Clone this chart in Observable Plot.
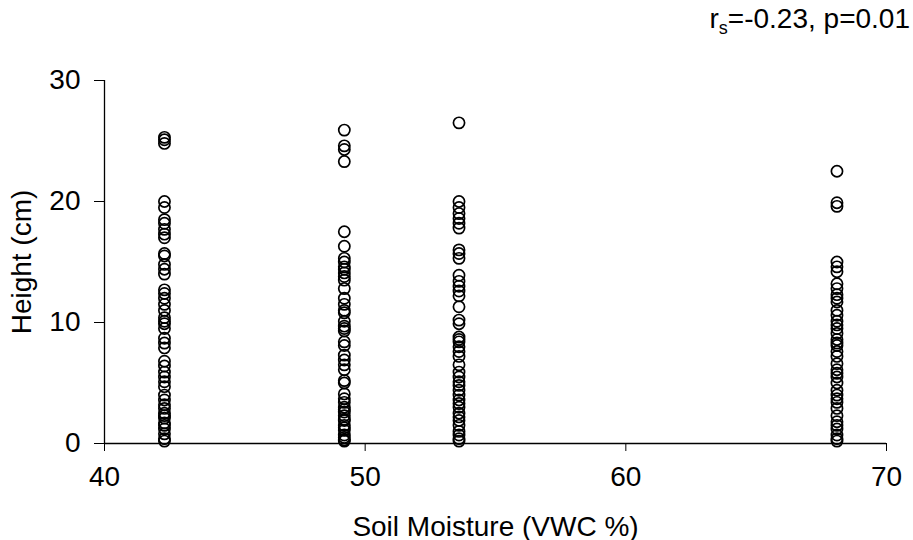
<!DOCTYPE html>
<html>
<head>
<meta charset="utf-8">
<script src="https://cdn.jsdelivr.net/npm/d3@7"></script>
<script src="https://cdn.jsdelivr.net/npm/@observablehq/plot@0.6"></script>
<style>
  html, body { margin: 0; padding: 0; background: #fff; }
  #wrap { position: relative; width: 913px; height: 540px; font-family: "Liberation Sans", Arial, sans-serif; }
  #note { position: absolute; right: 3px; top: 5px; font-size: 28px; line-height: 1; color: #000; white-space: nowrap; }
  #note sub { font-size: 18px; vertical-align: -6px; line-height: 0; }
</style>
</head>
<body>
<div id="wrap"><div id="note">r<sub>s</sub>=-0.23, p=0.01</div></div>
<script>
// Soil moisture levels (VWC %)
const moistureLevels = [42.3, 49.2, 53.6, 68.1];

// Plant heights (cm) at each moisture level
const heights42 = [25.3, 25.1, 24.8, 20.0, 19.5, 18.5, 18.2, 17.7, 17.3, 17.0, 15.7, 15.5, 14.8, 14.4, 14.0, 12.7, 12.4, 12.0, 11.5, 11.0, 10.4, 10.1, 9.9, 9.5, 8.7, 8.3, 7.9, 6.8, 6.4, 5.9, 5.5, 5.1, 4.7, 4.0, 3.6, 3.2, 2.9, 2.5, 2.3, 2.1, 1.7, 1.5, 1.2, 0.8, 0.4, 0.2];
const heights49 = [25.9, 24.6, 24.3, 23.3, 17.5, 16.3, 15.3, 15.0, 14.6, 14.4, 14.1, 13.8, 13.5, 12.8, 12.0, 11.5, 11.0, 10.8, 10.1, 9.7, 9.5, 9.3, 8.4, 8.1, 7.3, 6.9, 6.5, 6.1, 5.2, 5.0, 4.1, 3.7, 3.4, 3.0, 2.8, 2.6, 2.3, 2.0, 1.9, 1.5, 1.3, 1.1, 0.7, 0.5, 0.3, 0.2];
const heights53 = [26.5, 20.0, 19.5, 19.0, 18.6, 18.2, 17.8, 16.0, 15.7, 15.3, 13.9, 13.4, 13.0, 12.6, 12.2, 11.3, 10.2, 9.9, 8.8, 8.6, 8.4, 8.0, 7.6, 7.2, 6.5, 5.9, 5.5, 5.1, 4.8, 4.4, 4.0, 3.6, 3.3, 3.0, 2.5, 2.2, 1.9, 1.5, 1.0, 0.7, 0.4, 0.2];
const heights68 = [22.5, 19.9, 19.6, 15.0, 14.6, 14.2, 13.2, 12.8, 12.3, 12.0, 11.7, 11.0, 10.6, 10.1, 9.8, 9.5, 9.1, 8.6, 8.3, 8.1, 7.6, 7.2, 6.6, 6.1, 5.8, 5.5, 5.0, 4.4, 4.0, 3.7, 3.4, 2.9, 2.3, 1.8, 1.5, 1.2, 0.7, 0.4, 0.2];

const xTicks = [40, 50, 60, 70];
const yTicks = [0, 10, 20, 30];

const groups = [heights42, heights49, heights53, heights68];
const data = groups.flatMap((hs, i) => hs.map(h => ({moisture: moistureLevels[i], height: h})));

const chart = Plot.plot({
  width: 913,
  height: 540,
  marginLeft: 104,
  marginRight: 27,
  marginTop: 80,
  marginBottom: 97,
  style: {fontFamily: "'Liberation Sans', Arial, sans-serif", fontSize: "28px", color: "#000", background: "#fff"},
  x: {domain: [40, 70], ticks: xTicks, tickSize: 8, tickPadding: 15, label: "Soil Moisture (VWC %)", labelArrow: "none", labelAnchor: "center", labelOffset: 92},
  y: {domain: [0, 30], ticks: yTicks, tickSize: 10, tickPadding: 14, label: "Height (cm)", labelArrow: "none", labelAnchor: "center", labelOffset: 93},
  marks: [
    Plot.ruleY([0], {stroke: "#000", strokeWidth: 1.3}),
    Plot.ruleX([40], {stroke: "#000", strokeWidth: 1.3}),
    Plot.dot(data, {x: "moisture", y: "height", r: 5.6, stroke: "#000", strokeWidth: 1.7, fill: "none"})
  ]
});
document.getElementById("wrap").appendChild(chart);
</script>
</body>
</html>
